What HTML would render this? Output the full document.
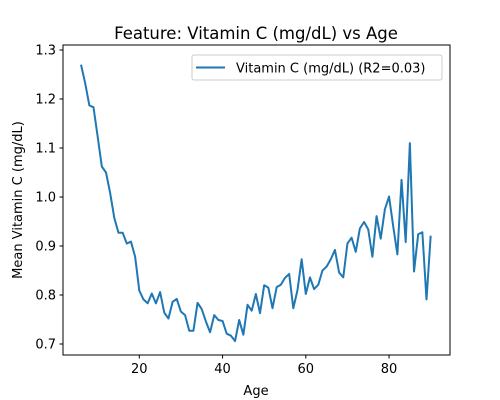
<!DOCTYPE html>
<html><head><meta charset="utf-8"><style>
html,body{margin:0;padding:0;background:#fff;}
svg{display:block;font-family:"DejaVu Sans","Liberation Sans",sans-serif;}
</style></head><body>
<svg id="chart" width="500" height="400" viewBox="0 0 500 400">
<rect x="0" y="0" width="500" height="400" fill="#fff"/>
<text x="256" y="39" font-size="16.5" text-anchor="middle">Feature: Vitamin C (mg/dL) vs Age</text>
<g id="xticks"></g>
<g id="yticks"></g>
<text x="256" y="395" font-size="13" text-anchor="middle">Age</text>
<text transform="translate(22,200) rotate(-90)" font-size="13" text-anchor="middle">Mean Vitamin C (mg/dL)</text>
<path id="series" fill="none" stroke="#1f77b4" stroke-width="2" stroke-linejoin="round"/>
<rect x="63" y="45" width="387" height="310" fill="none" stroke="#000" stroke-width="1"/>
<g>
<rect x="192" y="55" width="250" height="25" rx="2" fill="#fff" stroke="#ccc"/>
<line x1="196" y1="67.5" x2="225" y2="67.5" stroke="#1f77b4" stroke-width="2"/>
<text x="236" y="72.5" font-size="13">Vitamin C (mg/dL) (R2=0.03)</text>
</g>
</svg>
<script>
const ages = [];
for (let a = 6; a <= 90; a++) ages.push(a);
const vitaminC = [1.27,1.232,1.187,1.183,1.123,1.062,1.050,1.008,0.957,0.927,0.927,0.905,0.909,0.878,0.809,0.791,0.783,0.803,0.783,0.806,0.764,0.752,0.786,0.792,0.766,0.759,0.727,0.727,0.784,0.771,0.746,0.724,0.759,0.749,0.747,0.721,0.717,0.706,0.749,0.719,0.780,0.768,0.802,0.763,0.820,0.815,0.773,0.816,0.821,0.835,0.843,0.773,0.810,0.873,0.802,0.836,0.812,0.821,0.850,0.858,0.873,0.892,0.846,0.836,0.905,0.917,0.888,0.936,0.949,0.934,0.878,0.961,0.915,0.975,1.001,0.940,0.883,1.035,0.908,1.110,0.848,0.924,0.928,0.791,0.921];
const xTickVals = [20,40,60,80];
const yTickVals = [0.7,0.8,0.9,1.0,1.1,1.2,1.3];
const yTickLabels = ["0.7","0.8","0.9","1.0","1.1","1.2","1.3"];
const NS = "http://www.w3.org/2000/svg";
function xs(a){ return 139.3 + (a - 20) * 4.1625; }
function ys(v){ return 344 - (v - 0.7) * 490; }
let d = "";
vitaminC.forEach((v,i)=>{ d += (i?"L":"M") + xs(ages[i]).toFixed(2) + "," + ys(v).toFixed(2); });
document.getElementById("series").setAttribute("d", d);
const xg = document.getElementById("xticks");
xTickVals.forEach(t=>{
  const l = document.createElementNS(NS,"line");
  l.setAttribute("x1", xs(t)); l.setAttribute("x2", xs(t));
  l.setAttribute("y1", 355); l.setAttribute("y2", 358.5);
  l.setAttribute("stroke","#000");
  
  
  xg.appendChild(l);
  const tx = document.createElementNS(NS,"text");
  tx.setAttribute("x", xs(t)); tx.setAttribute("y", 373);
  tx.setAttribute("font-size","13"); tx.setAttribute("text-anchor","middle");
  tx.textContent = t;
  
  
  xg.appendChild(tx);
});
const yg = document.getElementById("yticks");
yTickVals.forEach((t,i)=>{
  const l = document.createElementNS(NS,"line");
  l.setAttribute("x1", 59.5); l.setAttribute("x2", 63);
  l.setAttribute("y1", ys(t)); l.setAttribute("y2", ys(t));
  l.setAttribute("stroke","#000");
  
  
  yg.appendChild(l);
  const tx = document.createElementNS(NS,"text");
  tx.setAttribute("x", 56); tx.setAttribute("y", ys(t) + 4.5);
  tx.setAttribute("font-size","13"); tx.setAttribute("text-anchor","end");
  tx.textContent = yTickLabels[i];
  
  
  yg.appendChild(tx);
});
</script>
</body></html>
